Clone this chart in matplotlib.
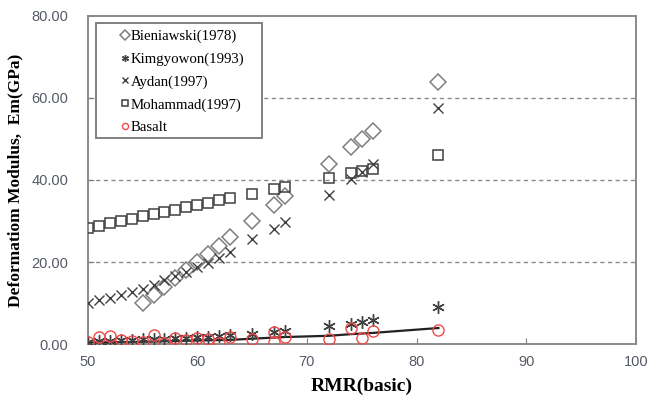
import numpy as np
import matplotlib
matplotlib.use("Agg")
import matplotlib.pyplot as plt
from matplotlib.patches import Rectangle

# RMR(basic) of the measured sections
rmr = [50, 51, 52, 53, 54, 55, 56, 57, 58, 59, 60, 61, 62, 63,
       65, 67, 68, 72, 74, 75, 76, 82]

# Bieniawski is only plotted from RMR 55 upwards
rmr_bien = [55, 56, 57, 58, 59, 60, 61, 62, 63, 65, 67, 68, 72, 74, 75, 76, 82]
em_bien = [10, 12, 14, 16, 18, 20, 22, 24, 26, 30, 34, 36, 44, 48, 50, 52, 64]

em_kim = [0.6, 0.7, 0.8, 0.9, 1.0, 1.1, 1.2, 1.3, 1.4, 1.5, 1.6, 1.8, 1.9, 2.1,
          2.5, 3.0, 3.2, 4.3, 5.0, 5.4, 5.8, 9.0]
em_aydan = [10.0, 10.7, 11.3, 12.0, 12.8, 13.5, 14.5, 15.5, 16.5, 17.5, 18.7, 19.8, 21.0, 22.5,
            25.5, 28.0, 29.8, 36.3, 40.3, 42.0, 44.0, 57.5]
em_moh = [28.3, 28.9, 29.5, 30.0, 30.6, 31.1, 31.7, 32.3, 32.8, 33.4, 33.9, 34.5, 35.0, 35.6,
          36.7, 37.8, 38.3, 40.5, 41.6, 42.2, 42.7, 46.1]

rmr_basalt = [50, 51, 52, 53, 54, 55, 56, 57, 58, 59, 60, 61, 62, 63,
              65, 67, 67, 68, 72, 74, 75, 76, 82]
em_basalt = [0.5, 1.7, 2.0, 1.0, 0.7, 0.5, 2.2, 0.2, 1.5, 1.0, 1.4, 1.2, 0.3, 1.8,
             1.3, 2.9, 0.5, 1.7, 1.2, 3.9, 1.5, 3.2, 3.4]

# trend line through the basalt data
rmr_fit = [50, 50, 55, 60, 63, 65, 68, 72, 74, 76, 82]
em_fit = [9.9, 0.35, 0.55, 0.85, 1.0, 1.3, 1.7, 2.0, 2.4, 2.7, 3.9]

fig = plt.figure(figsize=(6.5, 4.0), dpi=100)
ax = fig.add_axes([0.135, 0.14, 0.843, 0.82])

grey = "#7f7f7f"
dark = "#404040"

ax.plot(rmr_fit, em_fit, color="#222222", lw=1.6, zorder=2)
ax.plot(rmr_bien, em_bien, ls="none", marker="D", ms=8.5, mfc="none", mec=grey,
        mew=1.1, label="Bieniawski(1978)", zorder=3)
ax.plot(rmr, em_kim, ls="none", marker=(6, 2, 0), ms=9, mec=dark,
        mew=1.0, label="Kimgyowon(1993)", zorder=3)
ax.plot(rmr, em_aydan, ls="none", marker="x", ms=7.5, mec=dark,
        mew=1.0, label="Aydan(1997)", zorder=3)
ax.plot(rmr, em_moh, ls="none", marker="s", ms=7.5, mfc="none", mec=dark,
        mew=1.1, label="Mohammad(1997)", zorder=3)
ax.plot(rmr_basalt, em_basalt, ls="none", marker="o", ms=8, mfc="none", mec="#f04848",
        mew=1.0, label="Basalt", zorder=3)

ax.set_xlim(50, 100)
ax.set_ylim(0, 80)
ax.set_xticks([50, 60, 70, 80, 90, 100])
ax.set_yticks([0, 20, 40, 60, 80])
ax.set_yticklabels(["%.2f" % v for v in [0, 20, 40, 60, 80]])

for tick in ax.get_xticklabels() + ax.get_yticklabels():
    tick.set_fontfamily("Liberation Sans")
    tick.set_fontsize(10.5)
    tick.set_color("#555a66")

ax.tick_params(direction="in", length=4, width=0.8, color=grey, pad=8)
ax.tick_params(axis="y", pad=14)

for y in [20, 40, 60]:
    ax.axhline(y, color="#8a8a8a", lw=1.0, ls=(0, (3, 2.5)), zorder=1)

for s in ax.spines.values():
    s.set_color("#8a8a8a")
    s.set_linewidth(1.4)

ax.set_xlabel("RMR(basic)", fontfamily="Liberation Serif", fontweight="bold",
              fontsize=14, labelpad=6)
ax.set_ylabel("Deformatiom Modulus,  Em(GPa)", fontfamily="Liberation Serif",
              fontweight="bold", fontsize=12.5, labelpad=6)

# legend box is drawn on its own so it can be wider than the entries
ax.add_patch(Rectangle((0.0146, 0.628), 0.303, 0.351, transform=ax.transAxes,
                       fill=True, facecolor="white", edgecolor="#777777",
                       lw=1.3, zorder=4))
leg = ax.legend(loc="upper left", bbox_to_anchor=(0.052, 0.972), frameon=False,
                markerscale=0.55, handlelength=0.6, handletextpad=0.1,
                labelspacing=0.62, borderpad=0.3, borderaxespad=0.0,
                prop={"family": "Liberation Serif", "size": 10.7})
leg.set_zorder(5)

fig.savefig("out.png", dpi=100, facecolor="white")
